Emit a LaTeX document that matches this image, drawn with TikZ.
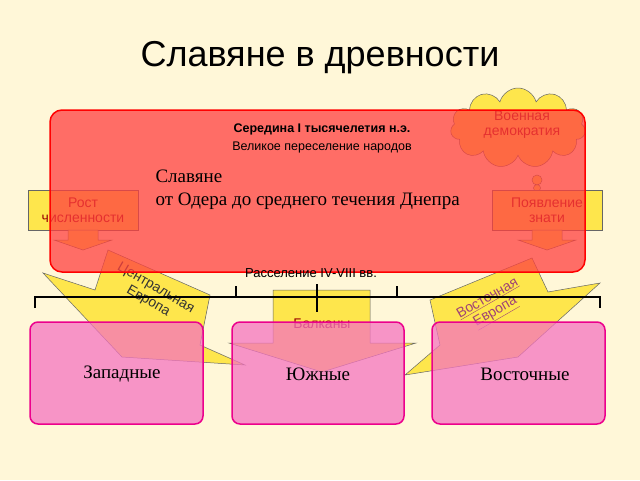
\documentclass[tikz,border=0pt]{standalone}
\usepackage{fontspec}
\setmainfont{Liberation Serif}
\newfontfamily\ar{Liberation Sans}
\usetikzlibrary{shapes.symbols}
\begin{document}
\begin{tikzpicture}[x=1pt,y=-1pt,
  yel/.style={fill=yellow!80!orange!70, draw=black!60, line width=0.5pt},
  pinkbox/.style={fill=magenta!55, fill opacity=0.75, draw=magenta, line width=1.5pt, rounded corners=8pt},
  lbl/.style={font=\ar\fontsize{14}{15}\selectfont, text=red!60!black, align=center}]
\fill[yellow!10!white!95!orange] (0,0) rectangle (640,480);
\useasboundingbox (0,0) rectangle (640,480);
\node (title) at (320,58) {\ar\fontsize{36}{38}\selectfont Славяне в древности};
% cloud
\node[cloud, cloud puffs=11, aspect=1.7, yel, minimum width=135, minimum height=80] (cloud) at (518,128) {};
\node[lbl] (cloudt) at (522,125) {Военная\\демократия};
\fill[yel] (537,180) circle (5) (537,188) circle (3.5);
% side boxes
\node[yel, minimum width=110, minimum height=40, inner sep=0] (rost) at (83,210) {};
\node[lbl] at (rost) {Рост\\численности};
\node[yel, minimum width=110, minimum height=40, inner sep=0] (znat) at (547,210) {};
\node[lbl] at (znat) {Появление\\знати};
\draw[yel] (68,230) -- (98,230) -- (98,240) -- (112,240) -- (83,250) -- (54,240) -- (68,240) -- cycle;
\draw[yel] (532,230) -- (562,230) -- (562,240) -- (576,240) -- (547,250) -- (518,240) -- (532,240) -- cycle;
% big arrows
\draw[yel] (108,250) -- (210,295) -- (200,345) -- (245,365) -- (122,357) -- (43,273) -- (95,290) -- cycle;
\draw[yel] (532,258) -- (430,300) -- (440,345) -- (405,375) -- (518,357) -- (600,283) -- (548,292) -- cycle;
\draw[yel] (273,290) -- (370,290) -- (370,343) -- (416,343) -- (322,372) -- (229,343) -- (273,343) -- cycle;
\node[lbl, rotate=-30, text=black!80] (ce) at (152,295) {Центральная\\Европа};
\node[lbl, rotate=30, text=magenta!60!black] (ve) at (492,306) {\underline{Восточная}\\\underline{Европа}};
% red box
\fill[red!75!white, fill opacity=0.75, draw=red, draw opacity=1, line width=1.5pt, rounded corners=12pt] (50,110) rectangle (585,272);
\node[font=\ar\bfseries\fontsize{12.5}{14}\selectfont] (mid) at (322,129) {Середина I тысячелетия н.э.};
\node[font=\ar\fontsize{12.5}{14}\selectfont] (vel) at (322,147) {Великое переселение народов};
\node[font=\fontsize{19}{23}\selectfont, align=left, anchor=north west] (sl) at (152,166) {Славяне\\от Одера до среднего течения Днепра};
% bracket
\node[font=\ar\fontsize{13}{14}\selectfont] (ras) at (311,273) {Расселение IV-VIII вв.};
\draw[line width=2pt] (35,308) -- (35,297) -- (600,297) -- (600,308);
\draw[line width=1.5pt] (236,286) -- (236,297) (397,286) -- (397,297) (317,284) -- (317,312);
\node[lbl] (balk) at (322,324) {Балканы};
% pink boxes
\draw[pinkbox] (30,322) rectangle (203,424);
\draw[pinkbox] (232,322) rectangle (404,424);
\draw[pinkbox] (432,322) rectangle (605,424);
\node[font=\fontsize{19}{22}\selectfont] (z) at (122,374) {Западные};
\node[font=\fontsize{19}{22}\selectfont] (yu) at (318,374) {Южные};
\node[font=\fontsize{19}{22}\selectfont] (vo) at (525,374) {Восточные};
\end{tikzpicture}
\end{document}
